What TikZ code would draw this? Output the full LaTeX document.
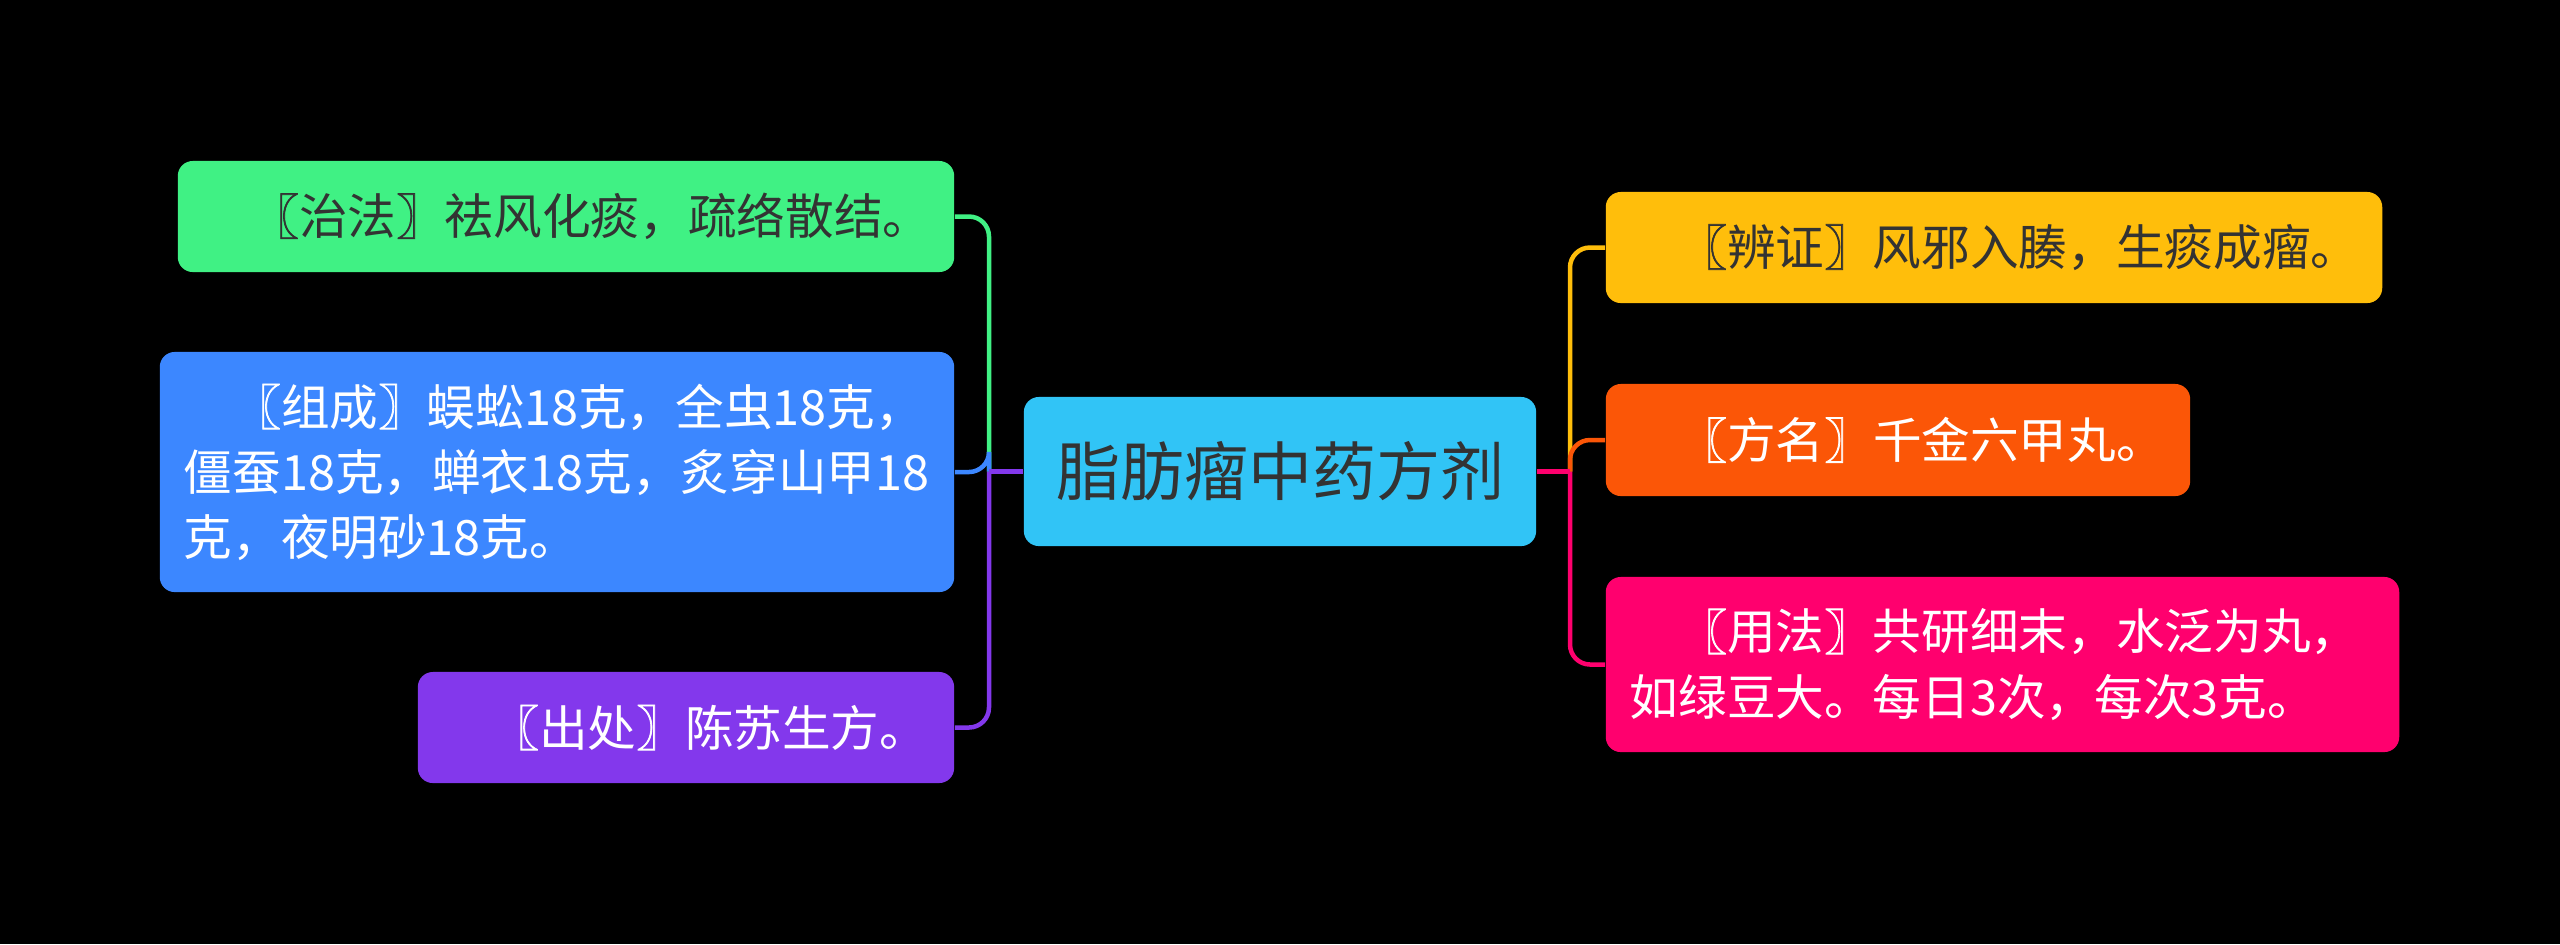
\documentclass[tikz,border=0pt]{standalone}
\usepackage{fontspec}
\setmainfont{Noto Sans CJK SC}
\newfontfamily\brkfont[FakeBold=1.5]{Noto Sans CJK SC}
\newcommand{\lbk}{{\brkfont 〖}}
\newcommand{\rbk}{{\brkfont 〗}}
\definecolor{cgreen}{HTML}{40F184}
\definecolor{cblue}{HTML}{3C87FF}
\definecolor{cpurple}{HTML}{8338EC}
\definecolor{ccyan}{HTML}{31C4F6}
\definecolor{cyellow}{HTML}{FFBE0B}
\definecolor{corange}{HTML}{FB5607}
\definecolor{cpink}{HTML}{FF006E}
\definecolor{cdark}{HTML}{333333}
\begin{document}
\begin{tikzpicture}[x=0.01cm,y=-0.01cm,
  box/.style={rounded corners=0.15cm, inner xsep=0.24cm, inner ysep=0pt, align=left,
    font=\fontsize{13.83pt}{18.5pt}\selectfont, anchor=center},
  link/.style={line width=0.045cm},
  branch/.style={line width=0.045cm, rounded corners=0.2cm}]
\fill[black] (0,0) rectangle (2560,944);
\useasboundingbox (0,0) rectangle (2560,944);

\node[box, fill=ccyan, text=cdark, minimum width=5.12cm, minimum height=1.49cm,
  inner xsep=0pt, align=center, font=\fontsize{18.2pt}{22pt}\selectfont] (root) at (1280,471.5) {脂肪瘤中药方剂};

\node[box, fill=cgreen, text=cdark, text width=7.28cm, minimum height=1.11cm] (green) at (566,216.5)
  {\hspace*{1em}\lbk 治法\rbk 祛风化痰，疏络散结。};
\node[box, fill=cblue, text=white, text width=7.46cm, minimum height=2.40cm] (blue) at (557,472)
  {\hspace*{1em}\lbk 组成\rbk 蜈蚣18克，全虫18克，\\僵蚕18克，蝉衣18克，炙穿山甲18\\克，夜明砂18克。};
\node[box, fill=cpurple, text=white, text width=4.88cm, minimum height=1.11cm] (purple) at (686,727.5)
  {\hspace*{1em}\lbk 出处\rbk 陈苏生方。};

\node[box, fill=cyellow, text=cdark, text width=7.28cm, minimum height=1.11cm] (yellow) at (1994,247.5)
  {\hspace*{1em}\lbk 辨证\rbk 风邪入腠，生痰成瘤。};
\node[box, fill=corange, text=white, text width=5.36cm, minimum height=1.12cm] (orange) at (1898,440)
  {\hspace*{1em}\lbk 方名\rbk 千金六甲丸。};
\node[box, fill=cpink, text=white, text width=7.45cm, minimum height=1.75cm] (pink) at (2002.5,664.5)
  {\hspace*{1em}\lbk 用法\rbk 共研细末，水泛为丸，\\如绿豆大。每日3次，每次3克。};

\coordinate (lt) at (989,471.5);
\coordinate (rt) at (1570,471.5);

\draw[branch, cgreen] (lt) |- (green.east);
\draw[branch, cblue] (lt) |- (blue.east);
\draw[branch, cpurple] (lt) |- (purple.east);
\draw[link, cpurple] (root.west) -- (lt);

\draw[branch, cyellow] (rt) |- (yellow.west);
\draw[branch, corange] (rt) |- (orange.west);
\draw[branch, cpink] (rt) |- (pink.west);
\draw[link, cpink] (root.east) -- (rt);
\end{tikzpicture}
\end{document}
